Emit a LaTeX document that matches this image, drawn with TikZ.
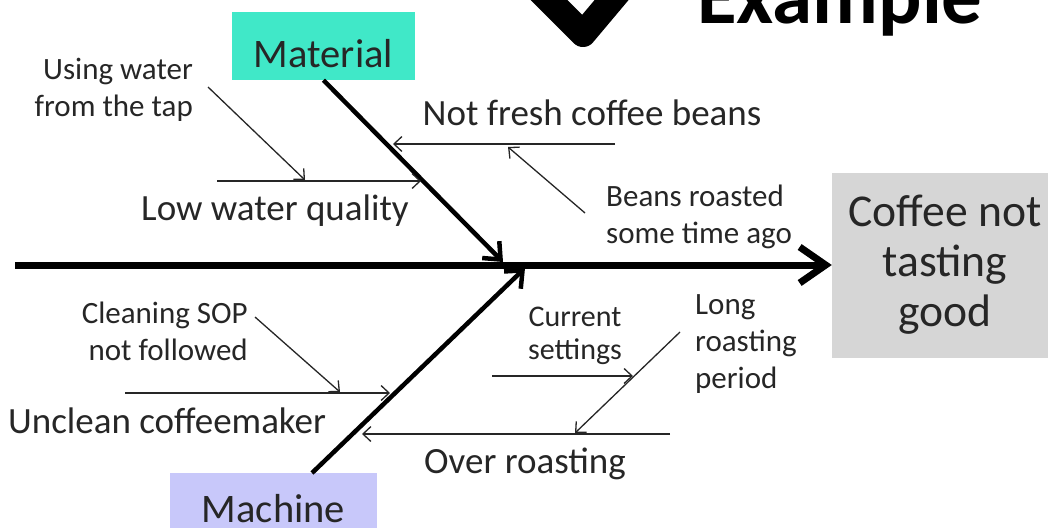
\documentclass[tikz,border=0pt]{standalone}
\usepackage{fontspec}
\setmainfont{Carlito}
\usetikzlibrary{arrows.meta}
\definecolor{matcol}{RGB}{64,232,200}
\definecolor{maccol}{RGB}{200,200,250}
\definecolor{effcol}{RGB}{214,214,214}
\definecolor{txtcol}{RGB}{38,38,38}

\begin{document}
\begin{tikzpicture}[x=1pt,y=-1pt,
	spine/.style={line width=7pt,-{Straight Barb[length=26pt,width=36pt]}},
	bone/.style={line width=4.5pt,-{Straight Barb[length=14pt,width=24pt]}},
	twig/.style={line width=1.3pt,draw=txtcol,-{Straight Barb[length=8pt,width=15pt]}},
	big/.style={font=\fontsize{37}{44}\selectfont,text=txtcol,inner sep=0pt},
	small/.style={font=\fontsize{31}{37}\selectfont,text=txtcol,inner sep=0pt},
	cat/.style={font=\fontsize{40.5}{48}\selectfont,text=txtcol,inner sep=0pt}]
				\useasboundingbox (0,0) rectangle (1048,528);
				\clip (0,0) rectangle (1048,528);
				\draw[line width=26pt,line cap=round,line join=round] (540,-9) -- (583,34) -- (620,-10);
				\node[anchor=base west,inner sep=0pt,font=\bfseries\fontsize{81}{90}\selectfont] (title) at (697,23) {Example};
				\node[fill=effcol,minimum width=226pt,minimum height=185pt,align=center,text=txtcol,font=\fontsize{45.6}{50}\selectfont] (effect) at (945,265) {Coffee not\\tasting\\good};
				\node[cat,fill=matcol,minimum width=183pt,minimum height=68pt,text height=42pt,text depth=0pt] (material) at (323.5,46) {Material};
				\node[cat,fill=maccol,minimum width=207pt,minimum height=55pt,text height=43pt,text depth=0pt] (machine) at (273.5,500.5) {Machine};
				\coordinate (tail) at (15,265);
				\coordinate (mat-tip) at (503,262);
				\coordinate (mac-foot) at (312,473);
				\coordinate (mac-tip) at (525,268);
				\draw[spine] (tail) -- (effect.west);
				\draw[bone] (material.south) -- (mat-tip);
				\draw[bone] (mac-foot) -- (mac-tip);
				\node[big,anchor=base] (lowwater) at (275,220) {Low water quality};
				\node[big,anchor=base] (freshbeans) at (592,125) {Not fresh coffee beans};
				\node[big,anchor=base] (unclean) at (167,433) {Unclean coffeemaker};
				\node[big,anchor=base] (overroast) at (525,473) {Over roasting};
				\node[small,align=right,anchor=east] (tapwater) at (193,90) {Using water\\from the tap};
				\node[small,align=left,anchor=west] (oldbeans) at (606,217) {Beans roasted\\some time ago};
				\node[small,align=right,anchor=east] (cleaning) at (248,331) {Cleaning SOP\\not followed};
				\node[text=txtcol,inner sep=0pt,align=center,font=\fontsize{30}{33}\selectfont] (settings) at (575,336) {Current\\settings};
				\node[small,align=left,anchor=west] (longroast) at (695,344) {Long\\roasting\\period};
				\coordinate (lw-a) at (217,181);
				\coordinate (lw-b) at (421,181);
				\coordinate (tap-a) at (208,87);
				\coordinate (tap-b) at (305,180);
				\coordinate (fb-a) at (615,144);
				\coordinate (fb-b) at (393,144);
				\coordinate (ob-a) at (585,213);
				\coordinate (ob-b) at (508,147);
				\coordinate (uc-a) at (125,393);
				\coordinate (uc-b) at (390,393);
				\coordinate (cl-a) at (255,317);
				\coordinate (cl-b) at (340,392);
				\coordinate (or-a) at (670,434);
				\coordinate (or-b) at (362,434);
				\coordinate (cs-a) at (492,376);
				\coordinate (cs-b) at (633,376);
				\coordinate (lr-a) at (680,332);
				\coordinate (lr-b) at (575,433);
				\draw[twig] (lw-a) -- (lw-b);
				\draw[twig] (tap-a) -- (tap-b);
				\draw[twig] (fb-a) -- (fb-b);
				\draw[twig] (ob-a) -- (ob-b);
				\draw[twig] (uc-a) -- (uc-b);
				\draw[twig] (cl-a) -- (cl-b);
				\draw[twig] (or-a) -- (or-b);
				\draw[twig] (cs-a) -- (cs-b);
				\draw[twig] (lr-a) -- (lr-b);
\end{tikzpicture}
\end{document}
